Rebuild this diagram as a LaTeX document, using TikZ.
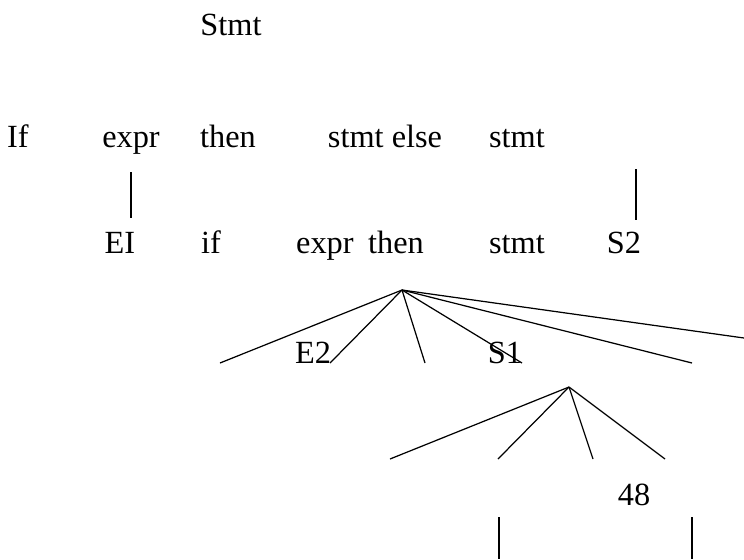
\documentclass[tikz,border=0pt]{standalone}
\usepackage{fontspec}
\setmainfont{Liberation Serif}
\begin{document}
\begin{tikzpicture}[x=0.02cm, y=-0.02cm,
    word/.style={anchor=base, inner sep=0pt, font=\fontsize{18.4}{22}\selectfont},
    branch/.style={line width=0.7pt},
    bar/.style={line width=1.6pt}]
    % Fix the picture area (pixel units, y pointing down)
    \useasboundingbox (0,0) rectangle (744,559);

    % Start symbol
    \node[word] (stmt) at (231,35) {Stmt};

    % First expansion
    \node[word] (kwif) at (18,147) {If};
    \node[word] (expra) at (131,147) {expr};
    \node[word] (thena) at (228,147) {then};
    \node[word] (stmtelse) at (385,147) {stmt else};
    \node[word] (stmta) at (517,147) {stmt};

    % Second row
    \node[word] (eone) at (120,253) {EI};
    \node[word] (kwifb) at (211,253) {if};
    \node[word] (exprthen) at (360,253) {expr\hspace{0.2em} then};
    \node[word] (stmtb) at (517,253) {stmt};
    \node[word] (stwo) at (624,253) {S2};

    % Vertical bars
    \coordinate (bara) at (131,172);
    \coordinate (barb) at (131,218);
    \coordinate (barc) at (636,169);
    \coordinate (bard) at (636,220);
    \draw[bar] (bara) -- (barb);
    \draw[bar] (barc) -- (bard);

    % Upper fan
    \coordinate (rootA) at (402,290);
    \foreach \x [count=\i] in {220,330,425,522,692} {
        \coordinate (fa\i) at (\x,363);
        \draw[branch] (rootA) -- (fa\i);
    }
    \coordinate (fa6) at (744,338);
    \draw[branch] (rootA) -- (fa6);
    \node[word] (etwo) at (313,363) {E2};
    \node[word] (sone) at (505,363) {S1};

    % Lower fan
    \coordinate (rootB) at (569,387);
    \foreach \x [count=\i] in {390,498,593,665} {
        \coordinate (fb\i) at (\x,459);
        \draw[branch] (rootB) -- (fb\i);
    }
    \node[word] (num) at (634,505) {48};

    % Bottom bars
    \coordinate (bare) at (499,517);
    \coordinate (barf) at (499,559);
    \coordinate (barg) at (692,517);
    \coordinate (barh) at (692,559);
    \draw[bar] (bare) -- (barf);
    \draw[bar] (barg) -- (barh);
\end{tikzpicture}
\end{document}
